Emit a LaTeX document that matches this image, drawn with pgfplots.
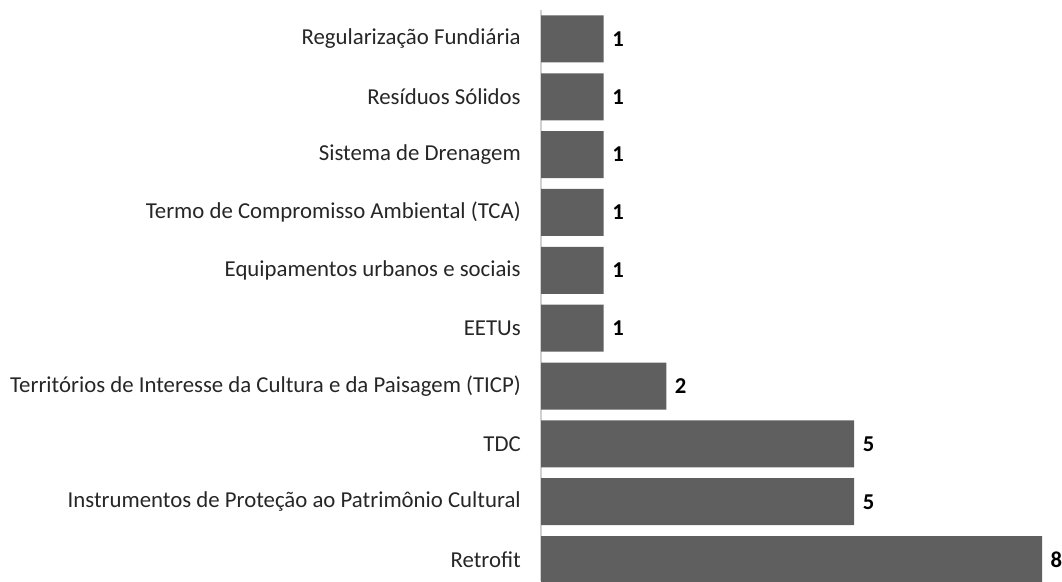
\documentclass[border=0pt]{standalone}
\usepackage{fontspec}
\setmainfont{Carlito}
\usepackage{pgfplots}
\pgfplotsset{compat=1.18}
\definecolor{barcol}{HTML}{5F5F5F}
\definecolor{axcol}{HTML}{D0D0D0}
\definecolor{txtcol}{HTML}{262626}
\begin{document}
\begin{tikzpicture}
\useasboundingbox (0,0) rectangle (796.5pt,435.75pt);
\begin{axis}[
  at={(405.75pt,0pt)}, anchor=south west,
  scale only axis, width=375.75pt, height=428.25pt,
  xbar, bar width=35.25pt, bar shift=0pt,
  xmin=0, xmax=8, ymin=-0.37, ymax=9.5,
  clip=false,
  /pgf/number format/assume math mode=true,
  axis x line=none, axis y line*=left,
  axis line style={draw=axcol, line width=0.8pt},
  ytick={0,1,2,3,4,5,6,7,8,9},
  yticklabels={Retrofit,
    Instrumentos de Proteção ao Patrimônio Cultural,
    TDC,
    Territórios de Interesse da Cultura e da Paisagem (TICP),
    EETUs,
    Equipamentos urbanos e sociais,
    Termo de Compromisso Ambiental (TCA),
    Sistema de Drenagem,
    Resíduos Sólidos,
    Regularização Fundiária},
  major tick length=0pt,
  yticklabel style={font=\fontsize{17.1}{20}\selectfont, text=txtcol, inner sep=0pt, xshift=-15pt},
  nodes near coords,
  nodes near coords style={anchor=west, xshift=3pt, font=\fontsize{17}{20}\selectfont\bfseries, text=black},
]
\addplot[fill=barcol, draw=none] coordinates {
  (8,0) (5,1) (5,2) (2,3) (1,4) (1,5) (1,6) (1,7) (1,8) (1,9)
};
\end{axis}
\end{tikzpicture}
\end{document}
